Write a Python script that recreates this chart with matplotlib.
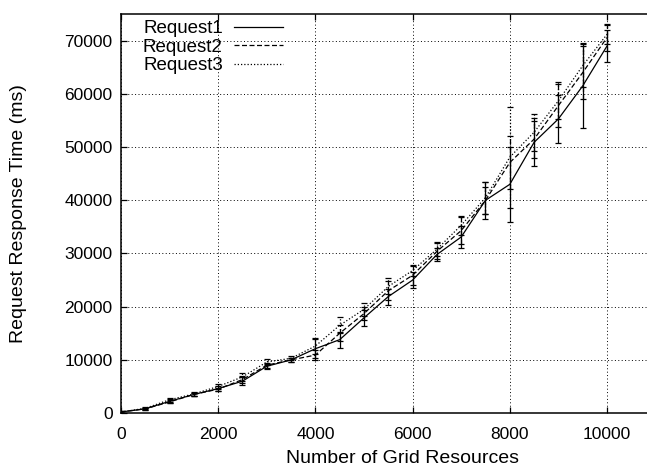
import numpy as np
import matplotlib
matplotlib.use("Agg")
import matplotlib.pyplot as plt
from matplotlib.lines import Line2D

plt.rcParams["font.family"] = ["Liberation Sans", "DejaVu Sans"]

# ---------------- data ----------------
grid_resources = [0, 500, 1000, 1500, 2000, 2500, 3000, 3500, 4000, 4500, 5000,
                  5500, 6000, 6500, 7000, 7500, 8000, 8500, 9000, 9500, 10000]

request1 = [200, 800, 2200, 3500, 4600, 6000, 8800, 10000, 12100, 13800, 17900,
            21900, 25000, 29800, 33100, 40000, 43000, 50900, 55300, 61500, 69000]
request2 = [200, 800, 2100, 3500, 4500, 6300, 9000, 10000, 10900, 15000, 18700,
            23000, 25900, 30400, 34300, 40000, 47100, 51500, 57800, 64000, 70600]
request3 = [200, 900, 2500, 3600, 5000, 6800, 9600, 10300, 12600, 16500, 19500,
            23800, 26800, 30800, 35300, 40500, 48100, 52800, 58700, 65300, 71200]

err1 = [100, 200, 400, 300, 400, 700, 500, 400, 1800, 1500, 1500,
        1500, 1500, 1200, 2000, 3500, 7000, 4500, 4500, 8000, 3000]
err2 = [100, 200, 300, 300, 300, 600, 500, 400, 900, 1500, 1200,
        1800, 1800, 1500, 2500, 2500, 5000, 3500, 4000, 5000, 2500]
err3 = [100, 200, 400, 300, 400, 700, 500, 400, 1500, 1500, 1200,
        1500, 1000, 1300, 1800, 3000, 9500, 3500, 3500, 4000, 1800]

labels = ["Request1", "Request2", "Request3"]
styles = ["-", (0, (4, 2)), (0, (1, 1.6))]

# ---------------- plot ----------------
fig = plt.figure(figsize=(6.47, 4.71), dpi=100)
ax = fig.add_axes([0.187, 0.123, 0.87, 0.847])
W, H = 647.0, 471.0
x_per_px = 10000 / (607 - 121)
ax.set_xlim(0, x_per_px * (0.87 * W))
ax.set_ylim(0, 75000)

series = [request1, request2, request3]
errs = [err1, err2, err3]
for vals, e, ls in zip(series, errs, styles):
    line = ax.errorbar(grid_resources, vals, yerr=e, color="black", lw=0.9,
                       capsize=2.2, elinewidth=0.9, capthick=0.9)
    line[0].set_linestyle(ls)
    for b in line[2]:
        b.set_linestyle(ls)

handles = [Line2D([], [], color="black", lw=0.9, linestyle=ls) for ls in styles]
ax.legend(handles, labels, loc="upper left", frameon=False, markerfirst=False,
          fontsize=13.5, handlelength=2.6, labelspacing=0.08, handletextpad=0.6,
          borderpad=0.0, borderaxespad=0.0,
          bbox_to_anchor=(143 / W, 1 - 20 / H), bbox_transform=fig.transFigure)

ax.set_xticks(np.arange(0, 10001, 2000))
ax.set_yticks(np.arange(0, 70001, 10000))
ax.tick_params(direction="in", top=True, right=True, length=4, width=0.9,
               labelsize=12.5)
ax.tick_params(axis="x", pad=10)
ax.tick_params(axis="y", pad=6)
ax.grid(True, color="black", linestyle=(0, (1, 2.5)), linewidth=0.7)

ax.set_xlabel("Number of Grid Resources", fontsize=14, labelpad=6)
ax.set_ylabel("Request Response Time (ms)", fontsize=14, labelpad=27)

for s in ax.spines.values():
    s.set_linewidth(1.1)

fig.savefig("out.png", dpi=100)
